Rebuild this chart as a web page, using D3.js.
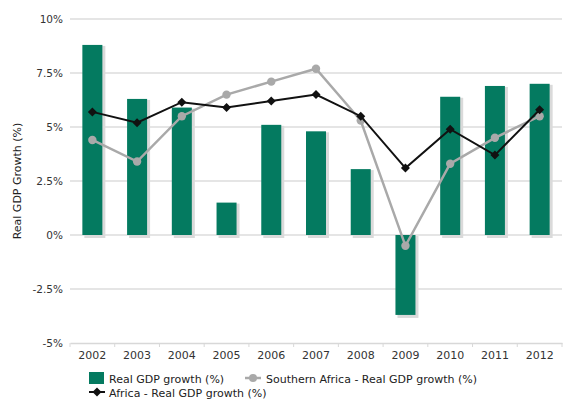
<!DOCTYPE html>
<html><head><meta charset="utf-8">
<script src="https://cdn.jsdelivr.net/npm/d3@7"></script>
<style>
body{margin:0;background:#fff;}
text{font-family:"DejaVu Sans",Verdana,sans-serif;}
</style></head>
<body><svg id="c" width="575" height="405"></svg>
<script>
const years = ["2002","2003","2004","2005","2006","2007","2008","2009","2010","2011","2012"];
const realGdp = [8.8, 6.3, 5.9, 1.5, 5.1, 4.8, 3.05, -3.7, 6.4, 6.9, 7.0];
const southernAfrica = [4.4, 3.4, 5.5, 6.5, 7.1, 7.7, 5.3, -0.5, 3.3, 4.5, 5.5];
const africa = [5.7, 5.2, 6.15, 5.9, 6.2, 6.5, 5.5, 3.1, 4.9, 3.7, 5.8];
const yTicks = [-5, -2.5, 0, 2.5, 5, 7.5, 10];
const yTickLabels = ["-5%", "-2.5%", "0%", "2.5%", "5%", "7.5%", "10%"];

(function(){
const svg = d3.select("#c");
const pL = 70, pR = 562, pT = 19, pB = 343;
const x = d3.scaleBand().domain(years).range([pL, pR]);
const y = d3.scaleLinear().domain([-5, 10]).range([pB, pT]);

svg.append("g").selectAll("line").data(yTicks.filter(d => d !== -5)).join("line")
  .attr("x1", pL).attr("x2", pR)
  .attr("y1", d => y(d)).attr("y2", d => y(d))
  .attr("stroke", "#dcdcdc").attr("stroke-width", 1.5);

svg.append("g").selectAll("text").data(yTicks).join("text")
  .attr("x", pL - 7).attr("y", d => y(d) + 4)
  .attr("text-anchor", "end").attr("font-size", 10.5).attr("fill", "#333")
  .text((d, i) => yTickLabels[i]);

const xAxis = d3.axisBottom(x).tickSize(0).tickPadding(8);
const gx = svg.append("g").attr("transform", `translate(0,${pB})`).call(xAxis);
gx.select(".domain").attr("stroke", "#d8d8d8").attr("stroke-width", 1.5);
gx.selectAll("text").attr("font-size", 11).attr("fill", "#333").attr("font-family", "DejaVu Sans, Verdana, sans-serif");
svg.append("g").selectAll("line").data(d3.range(years.length + 1)).join("line")
  .attr("x1", i => pL + i * x.step()).attr("x2", i => pL + i * x.step())
  .attr("y1", pB).attr("y2", pB + 4)
  .attr("stroke", "#d8d8d8");

svg.append("text").attr("transform", "translate(21,181) rotate(-90)")
  .attr("text-anchor", "middle").attr("font-size", 11).attr("fill", "#222")
  .text("Real GDP Growth (%)");

const bw = 20;
const bx = d => x(d) + x.bandwidth() / 2 - bw / 2;
svg.append("g").selectAll("rect").data(years).join("rect")
  .attr("x", (d) => bx(d) + 2)
  .attr("y", (d, i) => Math.min(y(realGdp[i]), y(0)) + 1)
  .attr("width", bw + 1)
  .attr("height", (d, i) => Math.abs(y(realGdp[i]) - y(0)) + 2)
  .attr("fill", "#dadada");
svg.append("g").selectAll("rect").data(years).join("rect")
  .attr("x", d => bx(d))
  .attr("y", (d, i) => Math.min(y(realGdp[i]), y(0)))
  .attr("width", bw)
  .attr("height", (d, i) => Math.abs(y(realGdp[i]) - y(0)))
  .attr("fill", "#047a60");

const cx = d => x(d) + x.bandwidth() / 2;
const lineS = d3.line().x((d, i) => cx(years[i])).y(d => y(d));
svg.append("path").datum(southernAfrica).attr("d", lineS)
  .attr("fill", "none").attr("stroke", "#a9a9a9").attr("stroke-width", 2.5);
svg.append("g").selectAll("circle").data(southernAfrica).join("circle")
  .attr("cx", (d, i) => cx(years[i])).attr("cy", d => y(d)).attr("r", 4.2)
  .attr("fill", "#a9a9a9");

svg.append("path").datum(africa).attr("d", lineS)
  .attr("fill", "none").attr("stroke", "#111").attr("stroke-width", 2);
const diamond = "M0,-4.5L4.5,0L0,4.5L-4.5,0Z";
svg.append("g").selectAll("path").data(africa).join("path")
  .attr("transform", (d, i) => `translate(${cx(years[i])},${y(d)})`)
  .attr("d", diamond).attr("fill", "#111");

const lg = svg.append("g");
lg.append("rect").attr("x", 89).attr("y", 372).attr("width", 15).attr("height", 12).attr("fill", "#047a60");
lg.append("text").attr("x", 109).attr("y", 383).attr("font-size", 11).attr("fill", "#222").text("Real GDP growth (%)");
lg.append("line").attr("x1", 245).attr("x2", 261).attr("y1", 378).attr("y2", 378).attr("stroke", "#a9a9a9").attr("stroke-width", 2.5);
lg.append("circle").attr("cx", 253).attr("cy", 378).attr("r", 4).attr("fill", "#a9a9a9");
lg.append("text").attr("x", 266).attr("y", 383).attr("font-size", 11).attr("fill", "#222").text("Southern Africa - Real GDP growth (%)");
lg.append("line").attr("x1", 89).attr("x2", 105).attr("y1", 392).attr("y2", 392).attr("stroke", "#111").attr("stroke-width", 2);
lg.append("path").attr("transform", "translate(97,392)").attr("d", diamond).attr("fill", "#111");
lg.append("text").attr("x", 109).attr("y", 397).attr("font-size", 11).attr("fill", "#222").text("Africa - Real GDP growth (%)");
})();
</script></body></html>
